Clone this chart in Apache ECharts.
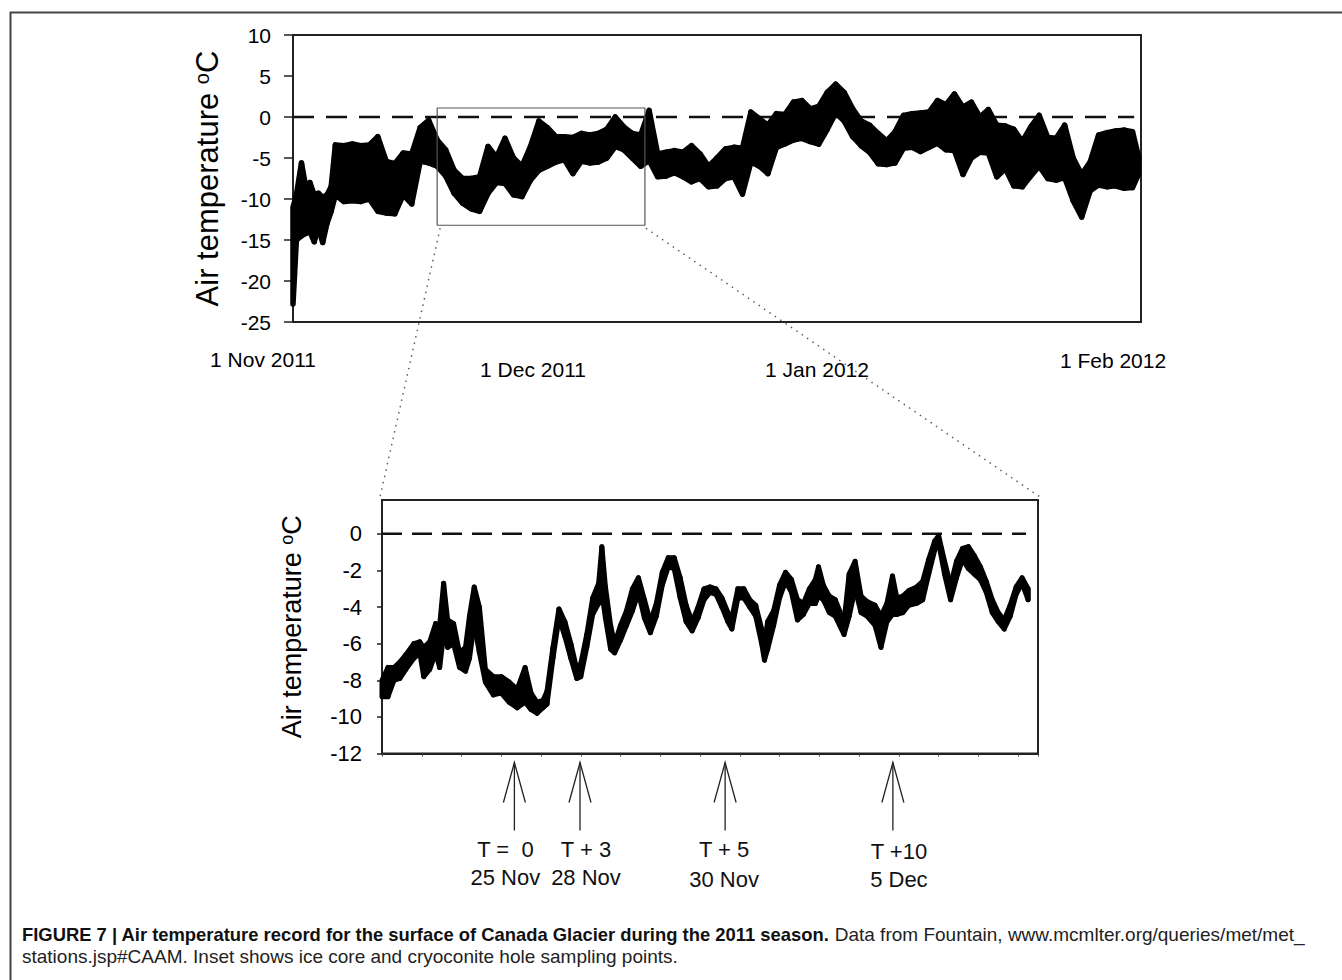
<!DOCTYPE html>
<html>
<head>
<meta charset="utf-8">
<script src="https://cdn.jsdelivr.net/npm/echarts@6/dist/echarts.min.js"></script>
<style>html,body{margin:0;padding:0;background:#fff;}#c{width:1342px;height:980px;}</style>
</head>
<body>
<div id="c"></div>
<script>
// ---------- DATA ----------
// Main panel: days since 1 Nov 2011, lower and upper edge of the hourly point cloud (deg C)
const topDays = [0,0.4,1,1.5,2,2.5,3,3.5,4,4.5,5,6,7,8,9,10,11,12,13,14,15,16,17,18,19,20,21,22,23,24,25,26,27,28,29,30,31,32,33,34,35,36,37,38,39,40,41,42,43,44,45,46,47,48,49,50,51,52,53,54,55,56,57,58,59,60,61,62,63,64,65,66,67,68,69,70,71,72,73,74,75,76,77,78,79,80,81,82,83,84,85,86,87,88,89,90,91,92,93,94,95,96,97,98,99,99.7];
const topLow  = [-22.8,-15,-14.5,-14.2,-14,-15.2,-13.5,-15.3,-13,-11.5,-9.5,-10.3,-10.2,-10.3,-10,-11.5,-11.7,-11.8,-9.5,-10.6,-5.4,-5.6,-6,-7.2,-9.3,-10.5,-11.2,-11.5,-9.3,-8,-8.1,-9.5,-9.7,-7.7,-6.5,-6,-5.5,-5.2,-6.9,-5.4,-5.6,-5.5,-5,-3.6,-4,-5,-6,-5.3,-7.3,-7.2,-6.8,-7.3,-7.9,-7.5,-8.5,-8.4,-7.5,-7.3,-9.4,-5.5,-6,-6.9,-3.7,-3.3,-2.8,-2.6,-3,-3.3,-1.5,0.5,-0.5,-2.4,-3.5,-4.3,-5.7,-5.8,-5.6,-3.8,-3.7,-4.2,-3.7,-3.2,-4,-4.1,-7,-5,-4.3,-4.4,-7.3,-6.3,-8.4,-8.5,-7.2,-6,-7.5,-7.7,-7.4,-10.2,-12.2,-9,-8.3,-8.5,-8.4,-8.7,-8.6,-7];
const topHigh = [-11,-9.5,-5.6,-8.5,-8,-9.5,-9.3,-9.8,-9.5,-8.5,-3.4,-3.5,-3.3,-3.5,-3.4,-2.4,-5.4,-5.7,-4.4,-4.5,-1.3,-0.4,-2.8,-4,-6.5,-7.5,-7.5,-7.3,-3.6,-4.9,-2.6,-5,-6,-3.6,-0.5,-1.3,-2.4,-2.4,-2.5,-2,-2.2,-2,-1.5,0,-1.2,-2,-2.2,0.8,-4.5,-4.3,-4.1,-4.3,-3.5,-4.5,-6,-5,-3.9,-3.7,-3.8,0.6,-0.2,-1,0.4,0.3,1.8,2,1,1.3,3,4,3,1,-0.5,-1,-2,-2.9,-1.8,0.2,0.4,0.5,0.6,2,1.5,2.8,1.2,1.8,0,0.9,-1,-1.1,-1.5,-3,-1.2,0.2,-2.5,-2.6,-1,-5,-7,-5.5,-2.2,-1.9,-1.7,-1.6,-1.8,-4.8];
const topTempTicks = [-25, 10, 5];          // min, max, step of the main temperature axis
const topDayRange = [0, 100];
const topDateLabels = ['1 Nov 2011', '1 Dec 2011', '1 Jan 2012', '1 Feb 2012'];
const zoomBoxDays = [17.0, 41.5];
const zoomBoxTemps = [1.1, -13.2];
const freezingPoint = 0;

// Inset: position along the inset time axis (one unit per tick), lower/upper edge of points
const insetPos  = [0,0.15,0.3,0.45,0.6,0.8,0.95,1.05,1.2,1.35,1.45,1.55,1.65,1.8,1.95,2.1,2.2,2.32,2.45,2.6,2.8,3,3.2,3.4,3.6,3.75,3.9,4.05,4.15,4.3,4.45,4.6,4.75,4.9,5,5.15,5.3,5.45,5.53,5.62,5.75,5.85,6,6.15,6.3,6.45,6.6,6.75,6.9,7.05,7.2,7.35,7.5,7.65,7.8,7.95,8.1,8.25,8.4,8.55,8.7,8.8,8.95,9.1,9.25,9.4,9.55,9.62,9.7,9.85,10,10.15,10.3,10.45,10.6,10.75,10.9,10.98,11.1,11.25,11.4,11.62,11.75,11.9,12.05,12.2,12.4,12.55,12.7,12.84,12.95,13.1,13.25,13.45,13.6,13.75,13.9,14,14.15,14.3,14.45,14.6,14.75,14.9,15.05,15.2,15.35,15.5,15.65,15.8,15.95,16.1,16.25];
const insetLow  = [-8.9,-8.9,-8,-7.9,-7.4,-6.8,-6.5,-7.8,-7.4,-6.5,-7.3,-5.5,-6.2,-6,-7.3,-7.5,-6.8,-4.9,-6.5,-8.1,-8.8,-8.7,-9.2,-9.5,-9.2,-9.6,-9.8,-9.5,-9.3,-6.8,-4.6,-5.6,-6.8,-7.9,-7.8,-6.2,-4.4,-3.8,-3.2,-4.6,-6.3,-6.5,-5.8,-5,-4.2,-3.2,-4.6,-5.4,-4.5,-2.8,-1.8,-1.9,-3.5,-4.8,-5.3,-4.6,-3.6,-3.2,-3.3,-4,-4.8,-5.2,-3.5,-3.5,-4,-4.5,-6,-6.9,-6.3,-5,-3.5,-2.6,-3.2,-4.7,-4.4,-3.8,-3.8,-3.4,-3.6,-4.3,-4.5,-5.5,-4.5,-3,-4.3,-4.5,-5,-6.2,-4.8,-4.4,-4.4,-4.3,-3.9,-3.8,-3.6,-2.2,-0.9,-0.5,-2.2,-3.6,-2.4,-1.4,-1.9,-2.2,-2.5,-3.2,-4.3,-4.8,-5.2,-4.5,-3.3,-2.7,-3.6];
const insetHigh = [-8,-7.3,-7.3,-7,-6.6,-6,-5.9,-6.2,-5.9,-4.9,-5,-2.7,-4.7,-4.9,-6.5,-6.2,-4.5,-2.9,-4,-7.4,-7.8,-7.8,-8.1,-8.5,-7.3,-8.7,-9.2,-9.1,-8.6,-6.2,-4.1,-4.8,-6,-7.4,-7.1,-5.5,-3.5,-2.7,-0.7,-2.9,-5,-6,-5,-4.2,-3,-2.4,-3.6,-4.8,-3.8,-2.1,-1.3,-1.3,-2.4,-3.9,-4.8,-4,-3,-2.9,-3,-3.5,-4.3,-4.6,-3,-3,-3.6,-3.9,-5.2,-6,-4.8,-4.2,-2.8,-2.1,-2.5,-3.6,-3.8,-3,-2.5,-1.8,-2.8,-3.4,-3.6,-4.8,-2.2,-1.5,-3.4,-3.7,-3.9,-4.5,-3.8,-2.3,-3.5,-3.4,-3.1,-2.9,-2.6,-1.4,-0.4,-0.1,-1.5,-2.8,-1.5,-0.8,-0.7,-1.2,-1.8,-2.6,-3.6,-4.3,-4.7,-3.9,-2.9,-2.4,-3];
const insetTempTicks = [-12, 1.85, 2];      // min, max, step of the inset temperature axis
const insetPosRange = [0, 16.5];
// Sampling points marked under the inset
const sampleTimes = ['T =  0', 'T + 3', 'T + 5', 'T +10'];
const sampleDates = ['25 Nov', '28 Nov', '30 Nov', '5 Dec'];
const samplePos = [3.33, 4.98, 8.63, 12.85];
const yAxisTitle = ['Air temperature ', 'o', 'C'];
const captionBold = 'FIGURE 7 | Air temperature record for the surface of Canada Glacier during the 2011 season.';
const captionRest = ' Data from Fountain, www.mcmlter.org/queries/met/met_';
const captionLine2 = 'stations.jsp#CAAM. Inset shows ice core and cryoconite hole sampling points.';

// ---------- CHART ----------
const FONT = '"Liberation Sans", Arial, Helvetica, sans-serif';
const chart = echarts.init(document.getElementById('c'), null, {renderer: 'svg', width: 1342, height: 980});

function bandItem(days, lows, highs, w) {
  return function (params, api) {
    const i = params.dataIndex;
    const j = Math.min(i + 1, days.length - 1);
    const pts = [
      api.coord([days[i], highs[i]]),
      api.coord([days[j], highs[j]]),
      api.coord([days[j], lows[j]]),
      api.coord([days[i], lows[i]])
    ];
    return {
      type: 'polygon',
      shape: {points: pts},
      style: {fill: '#000', stroke: '#000', lineWidth: w, lineJoin: 'round', lineCap: 'round'}
    };
  };
}

function axisName() {
  return '{a|' + yAxisTitle[0] + '}{s|' + yAxisTitle[1] + '}{a|' + yAxisTitle[2] + '}';
}
function nameStyle(size, sup) {
  return {
    fontFamily: FONT, fontSize: size, color: '#000',
    rich: {
      a: {fontFamily: FONT, fontSize: size, color: '#000'},
      s: {fontFamily: FONT, fontSize: sup, color: '#000', verticalAlign: 'top'}
    }
  };
}

const option = {
  animation: false,
  backgroundColor: '#fff',
  grid: [
    {left: 293, top: 35, width: 848, height: 287, show: true, borderColor: '#222', borderWidth: 2, backgroundColor: 'transparent'},
    {left: 382, top: 500, width: 656, height: 253.5, show: true, borderColor: '#222', borderWidth: 2, backgroundColor: 'transparent'}
  ],
  xAxis: [
    {type: 'value', gridIndex: 0, min: topDayRange[0], max: topDayRange[1],
     axisLine: {show: true, onZero: false, lineStyle: {color: '#222', width: 2}},
     axisTick: {show: false}, axisLabel: {show: false}, splitLine: {show: false}},
    {type: 'value', gridIndex: 1, min: insetPosRange[0], max: insetPosRange[1], interval: 1,
     axisLine: {show: true, onZero: false, lineStyle: {color: '#222', width: 2}},
     axisTick: {show: true, length: 3, lineStyle: {color: '#444', width: 1}}, axisLabel: {show: false}, splitLine: {show: false}}
  ],
  yAxis: [
    {type: 'value', gridIndex: 0, min: topTempTicks[0], max: topTempTicks[1], interval: topTempTicks[2],
     name: axisName(), nameLocation: 'middle', nameGap: 70, nameTextStyle: nameStyle(31, 20),
     axisLine: {show: true, lineStyle: {color: '#222', width: 2}},
     axisTick: {show: true, length: 9, lineStyle: {color: '#222', width: 1.5}},
     axisLabel: {fontFamily: FONT, fontSize: 21, color: '#000', margin: 22},
     splitLine: {show: false}},
    {type: 'value', gridIndex: 1, min: insetTempTicks[0], max: insetTempTicks[1], interval: insetTempTicks[2],
     name: axisName(), nameLocation: 'middle', nameGap: 77, nameTextStyle: nameStyle(27, 18),
     axisLine: {show: true, lineStyle: {color: '#222', width: 2}},
     axisTick: {show: true, length: 5, lineStyle: {color: '#222', width: 1.5}},
     axisLabel: {fontFamily: FONT, fontSize: 22, color: '#000', margin: 20, showMaxLabel: false,
       formatter: v => (Math.abs(v % 2) < 1e-6 ? String(v) : '')},
     splitLine: {show: false}}
  ],
  series: [
    {type: 'custom', xAxisIndex: 0, yAxisIndex: 0, z: 3,
     data: topDays.map((d, i) => [d, topLow[i], topHigh[i]]),
     encode: {x: 0, y: [1, 2]},
     renderItem: bandItem(topDays, topLow, topHigh, 5.5)},
    {type: 'line', xAxisIndex: 0, yAxisIndex: 0, z: 2, symbol: 'none', silent: true,
     data: [[topDayRange[0], freezingPoint], [topDayRange[1] - 0.8, freezingPoint]],
     lineStyle: {color: '#111', width: 2.5, type: [21, 12]}},
    {type: 'line', xAxisIndex: 0, yAxisIndex: 0, z: 4, symbol: 'none', silent: true,
     data: [[zoomBoxDays[0], zoomBoxTemps[0]], [zoomBoxDays[1], zoomBoxTemps[0]], [zoomBoxDays[1], zoomBoxTemps[1]],
            [zoomBoxDays[0], zoomBoxTemps[1]], [zoomBoxDays[0], zoomBoxTemps[0]]],
     lineStyle: {color: '#555', width: 1.2}},
    {type: 'custom', xAxisIndex: 1, yAxisIndex: 1, z: 3,
     data: insetPos.map((d, i) => [d, insetLow[i], insetHigh[i]]),
     encode: {x: 0, y: [1, 2]},
     renderItem: bandItem(insetPos, insetLow, insetHigh, 5)},
    {type: 'line', xAxisIndex: 1, yAxisIndex: 1, z: 2, symbol: 'none', silent: true,
     data: [[insetPosRange[0], freezingPoint], [insetPosRange[1] - 0.3, freezingPoint]],
     lineStyle: {color: '#111', width: 2.5, type: [20, 10]}},
    {type: 'custom', xAxisIndex: 1, yAxisIndex: 1, z: 5, clip: false, silent: true,
     data: samplePos.map((p, i) => [p, insetTempTicks[0]]),
     encode: {x: 0, y: 1},
     renderItem: function (params, api) {
       const i = params.dataIndex;
       const labelShift = [-9, 6, -1, 6];   // hand-placed label offsets in the original figure
       const base = api.coord([samplePos[i], insetTempTicks[0]]);
       const x = base[0], tipY = base[1] + 9, endY = base[1] + 77;
       const lx = x + labelShift[i];
       return {type: 'group', children: [
         {type: 'line', shape: {x1: x, y1: tipY, x2: x, y2: endY}, style: {stroke: '#222', lineWidth: 1.3}},
         {type: 'polyline', shape: {points: [[x - 11, tipY + 40], [x, tipY], [x + 11, tipY + 40]]},
          style: {stroke: '#222', lineWidth: 1.3, fill: null}},
         {type: 'text', x: lx, y: endY + 19 + (i === 3 ? 2 : 0),
          style: {text: sampleTimes[i], font: '22px ' + FONT, fill: '#111', align: 'center', verticalAlign: 'middle'}},
         {type: 'text', x: lx, y: endY + 47 + (i >= 2 ? 2 : 0),
          style: {text: sampleDates[i], font: '22px ' + FONT, fill: '#111', align: 'center', verticalAlign: 'middle'}}
       ]};
     }}
  ]
};
chart.setOption(option);

// Connector lines between the zoom box and the inset corners, placed through the axes' own scales
const bl = chart.convertToPixel({gridIndex: 0}, [zoomBoxDays[0], zoomBoxTemps[1]]);
const br = chart.convertToPixel({gridIndex: 0}, [zoomBoxDays[1], zoomBoxTemps[1]]);
const il = chart.convertToPixel({gridIndex: 1}, [insetPosRange[0], insetTempTicks[1]]);
const ir = chart.convertToPixel({gridIndex: 1}, [insetPosRange[1], insetTempTicks[1]]);

const datePos = [[263, 359], [533, 369], [817, 369], [1113, 360]];
const graphics = [
  {type: 'rect', left: 8, top: 10, shape: {x: 0, y: 0, width: 1400, height: 1000}, silent: true,
   style: {fill: 'none', stroke: '#444', lineWidth: 2}},
  {type: 'line', silent: true, shape: {x1: bl[0] + 3, y1: bl[1] + 3, x2: il[0] - 2, y2: il[1] - 3},
   style: {stroke: '#555', lineWidth: 1.4, lineDash: [1.5, 5]}},
  {type: 'line', silent: true, shape: {x1: br[0] + 1, y1: br[1] + 3, x2: ir[0] + 2, y2: ir[1] - 3},
   style: {stroke: '#555', lineWidth: 1.4, lineDash: [1.5, 5]}},
  {type: 'text', x: 22, y: 934, silent: true,
   style: {text: '{b|' + captionBold + '}{r|' + captionRest + '}', textVerticalAlign: 'middle', verticalAlign: 'middle',
     rich: {b: {fontFamily: FONT, fontWeight: 'bold', fontSize: 18.4, fill: '#111'},
            r: {fontFamily: FONT, fontSize: 19, fill: '#222'}}}},
  {type: 'text', x: 22, y: 956, silent: true,
   style: {text: captionLine2, font: '19px ' + FONT, fill: '#222', textVerticalAlign: 'middle', verticalAlign: 'middle'}}
];
topDateLabels.forEach((t, i) => {
  graphics.push({type: 'text', x: datePos[i][0], y: datePos[i][1], silent: true,
    style: {text: t, font: '21px ' + FONT, fill: '#000', textAlign: 'center', align: 'center',
            textVerticalAlign: 'middle', verticalAlign: 'middle'}});
});
chart.setOption({graphic: graphics});
</script>
</body>
</html>
